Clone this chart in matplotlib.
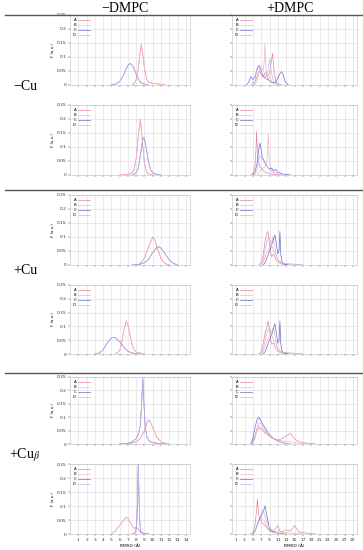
import numpy as np
import matplotlib.pyplot as plt

plt.rcParams['mathtext.fontset'] = 'stix'

W, H = 363, 550

col_titles = ["\u2212DMPC", "+DMPC"]
row_titles = ["\u2212Cu", "+Cu", "+Cu$_\\beta$"]
labels = ["A", "B", "C", "D"]
colors = ["#e9839b", "#f4b6c0", "#6c6cd2", "#c3b9ee"]

# ---- left column (-DMPC), RMSD in Angstrom ----
# row 1 (-Cu)
r1L_A_x = [7.5, 7.75, 8.0, 8.25, 8.5, 8.6, 8.75, 9.0, 9.25, 9.5, 10.0, 10.5, 11.0, 11.5]
r1L_A_y = [0, 0.004, 0.02, 0.06, 0.125, 0.145, 0.12, 0.06, 0.022, 0.01, 0.006, 0.004, 0.002, 0]
r1L_C_x = [5.0, 5.5, 6.0, 6.5, 6.75, 7.0, 7.25, 7.5, 7.75, 8.0, 8.25, 8.5, 9.0, 9.5]
r1L_C_y = [0, 0.003, 0.012, 0.038, 0.055, 0.07, 0.077, 0.072, 0.058, 0.038, 0.022, 0.01, 0.002, 0]
# row 2
r2L_A_x = [6.0, 7.0, 7.5, 7.75, 8.0, 8.25, 8.5, 8.75, 9.0, 9.25, 9.5, 10.0]
r2L_A_y = [0, 0.002, 0.008, 0.02, 0.06, 0.14, 0.2, 0.12, 0.04, 0.012, 0.004, 0]
r2L_C_x = [7.5, 8.0, 8.25, 8.5, 8.75, 8.9, 9.0, 9.25, 9.5, 9.75, 10.0, 10.5, 11.0]
r2L_C_y = [0, 0.008, 0.025, 0.07, 0.12, 0.135, 0.13, 0.09, 0.045, 0.018, 0.008, 0.002, 0]
# row 3 (+Cu)
r3L_A_x = [8.0, 8.5, 9.0, 9.5, 10.0, 10.25, 10.5, 11.0, 11.5, 12.0]
r3L_A_y = [0, 0.005, 0.025, 0.065, 0.1, 0.09, 0.065, 0.022, 0.005, 0]
r3L_C_x = [7.5, 8.5, 9.0, 9.5, 10.0, 10.5, 10.75, 11.0, 11.5, 12.0, 12.5, 13.0]
r3L_C_y = [0, 0.003, 0.008, 0.02, 0.045, 0.063, 0.065, 0.06, 0.04, 0.018, 0.006, 0]
# row 4
r4L_A_x = [5.5, 6.0, 6.25, 6.5, 6.8, 7.0, 7.25, 7.5, 7.75, 8.0, 8.5, 9.0]
r4L_A_y = [0, 0.012, 0.04, 0.085, 0.12, 0.105, 0.07, 0.035, 0.015, 0.007, 0.003, 0]
r4L_C_x = [3.0, 3.5, 4.0, 4.5, 5.0, 5.25, 5.5, 6.0, 6.5, 7.0, 7.5, 8.0, 8.5]
r4L_C_y = [0, 0.003, 0.015, 0.04, 0.058, 0.06, 0.058, 0.045, 0.025, 0.01, 0.004, 0.001, 0]
# row 5 (+Cu beta)
r5L_A_x = [7.0, 7.5, 8.0, 8.5, 9.0, 9.25, 9.5, 9.75, 10.0, 10.5, 11.0, 11.5, 12.0]
r5L_A_y = [0, 0.003, 0.008, 0.02, 0.05, 0.075, 0.09, 0.08, 0.06, 0.025, 0.008, 0.003, 0]
r5L_C_x = [6.0, 7.0, 7.5, 8.0, 8.25, 8.5, 8.65, 8.8, 8.95, 9.1, 9.3, 9.6, 10.0, 11.0, 11.5]
r5L_C_y = [0, 0.003, 0.008, 0.02, 0.035, 0.07, 0.15, 0.245, 0.14, 0.06, 0.025, 0.01, 0.005, 0.001, 0]
# row 6
r6L_A_x = [5.0, 5.5, 6.0, 6.5, 6.8, 7.0, 7.5, 7.75, 8.0, 8.25, 8.5, 9.0, 9.5]
r6L_A_y = [0, 0.012, 0.03, 0.05, 0.06, 0.055, 0.03, 0.02, 0.025, 0.018, 0.006, 0.001, 0]
r6L_C_x = [7.5, 7.9, 8.05, 8.15, 8.25, 8.35, 8.45, 8.6, 9.0, 9.5]
r6L_C_y = [0, 0.005, 0.03, 0.12, 0.25, 0.12, 0.03, 0.006, 0.001, 0]

# ---- right column (+DMPC) ----
# row 1
r1R_A_x = [5, 5.5, 6, 6.5, 7, 7.5, 8, 8.5, 9, 9.4, 9.75, 10.1, 10.5, 11, 12]
r1R_A_y = [0, 0.01, 0.03, 0.05, 0.04, 0.03, 0.045, 0.03, 0.04, 0.08, 0.113, 0.05, 0.015, 0.004, 0]
r1R_B_x = [5.5, 6, 6.5, 7, 7.5, 7.75, 7.9, 8.05, 8.3, 8.7, 9, 9.5, 10, 11]
r1R_B_y = [0, 0.015, 0.045, 0.065, 0.05, 0.09, 0.15, 0.08, 0.03, 0.02, 0.03, 0.015, 0.005, 0]
r1R_C_x = [3.5, 4, 4.5, 5, 5.5, 6, 6.5, 7, 7.5, 8, 8.5, 9, 9.5, 10, 10.5, 11, 11.5, 11.9, 12.3, 12.8, 13.5]
r1R_C_y = [0, 0.01, 0.03, 0.02, 0.025, 0.055, 0.07, 0.05, 0.03, 0.025, 0.02, 0.015, 0.01, 0.008, 0.01, 0.025, 0.04, 0.048, 0.035, 0.01, 0]
r1R_D_x = [4.5, 5, 5.5, 6, 6.3, 6.7, 7, 7.5, 8, 8.5, 8.8, 9.1, 9.4, 9.8, 10.5, 11.5]
r1R_D_y = [0, 0.01, 0.03, 0.06, 0.07, 0.06, 0.045, 0.035, 0.03, 0.04, 0.07, 0.092, 0.05, 0.02, 0.005, 0]
# row 2
r2R_A_x = [4.5, 5, 5.5, 5.75, 5.9, 6.05, 6.3, 6.7, 7, 7.5, 8, 8.5, 9, 10, 11]
r2R_A_y = [0, 0.005, 0.03, 0.09, 0.155, 0.1, 0.05, 0.03, 0.025, 0.015, 0.01, 0.008, 0.005, 0.002, 0]
r2R_B_x = [6, 6.5, 7, 7.5, 8, 8.4, 8.55, 8.7, 8.85, 9.0, 9.5, 10, 11, 12]
r2R_B_y = [0, 0.01, 0.02, 0.025, 0.03, 0.05, 0.1, 0.15, 0.09, 0.04, 0.02, 0.01, 0.004, 0]
r2R_C_x = [5, 5.5, 6, 6.4, 6.7, 7, 7.3, 7.6, 8, 8.5, 9, 9.5, 10, 10.5, 11, 11.5, 12, 13, 14]
r2R_C_y = [0, 0.01, 0.04, 0.09, 0.114, 0.09, 0.06, 0.055, 0.04, 0.03, 0.02, 0.025, 0.015, 0.02, 0.01, 0.008, 0.004, 0.002, 0]
r2R_D_x = [5.5, 6, 6.5, 7, 7.5, 8, 8.5, 9, 9.5, 10, 11, 12]
r2R_D_y = [0, 0.02, 0.06, 0.07, 0.05, 0.04, 0.03, 0.02, 0.012, 0.008, 0.003, 0]
# row 3
r3R_A_x = [6.5, 7, 7.5, 8, 8.3, 8.6, 8.9, 9.2, 9.5, 10, 10.5, 11, 12, 13]
r3R_A_y = [0, 0.01, 0.04, 0.09, 0.11, 0.12, 0.09, 0.05, 0.03, 0.04, 0.02, 0.01, 0.003, 0]
r3R_B_x = [7, 7.5, 8, 8.5, 9, 9.5, 9.8, 10, 10.3, 10.6, 11, 11.5, 12, 13, 15, 17]
r3R_B_y = [0, 0.01, 0.03, 0.05, 0.06, 0.08, 0.1, 0.09, 0.06, 0.03, 0.02, 0.01, 0.005, 0.004, 0.002, 0]
r3R_C_x = [7.5, 8, 8.5, 9, 9.5, 10, 10.3, 10.6, 11, 11.3, 11.5, 11.7, 12, 12.5, 13.5]
r3R_C_y = [0, 0.01, 0.03, 0.05, 0.07, 0.095, 0.107, 0.08, 0.04, 0.05, 0.12, 0.04, 0.01, 0.004, 0]
r3R_D_x = [7, 7.5, 8, 8.5, 9, 9.5, 10, 10.5, 11, 12, 14, 16, 17]
r3R_D_y = [0, 0.02, 0.06, 0.09, 0.1, 0.07, 0.05, 0.04, 0.02, 0.006, 0.004, 0.002, 0]
# row 4
r4R_A_x = [6.5, 7, 7.5, 8, 8.4, 8.7, 9.0, 9.3, 9.6, 10, 10.5, 11, 12, 13]
r4R_A_y = [0, 0.01, 0.04, 0.08, 0.1, 0.12, 0.085, 0.05, 0.035, 0.04, 0.02, 0.01, 0.003, 0]
r4R_B_x = [7, 7.5, 8, 8.5, 9, 9.5, 9.8, 10.1, 10.4, 10.7, 11, 11.5, 12, 13, 15, 17]
r4R_B_y = [0, 0.01, 0.03, 0.05, 0.065, 0.08, 0.095, 0.085, 0.06, 0.03, 0.02, 0.01, 0.006, 0.004, 0.002, 0]
r4R_C_x = [7.5, 8, 8.5, 9, 9.5, 10, 10.3, 10.6, 11, 11.3, 11.5, 11.7, 12, 12.5, 13.5]
r4R_C_y = [0, 0.01, 0.03, 0.05, 0.07, 0.095, 0.11, 0.08, 0.04, 0.05, 0.12, 0.04, 0.01, 0.004, 0]
r4R_D_x = [7, 7.5, 8, 8.5, 9, 9.5, 10, 10.5, 11, 12, 14, 16, 17]
r4R_D_y = [0, 0.02, 0.055, 0.085, 0.095, 0.07, 0.05, 0.04, 0.02, 0.006, 0.004, 0.002, 0]
# row 5
r5R_A_x = [4.5, 5, 5.5, 6, 6.5, 7, 7.5, 8, 8.5, 9, 9.5, 10, 11, 12, 13, 14, 15, 16, 18, 20]
r5R_A_y = [0, 0.01, 0.03, 0.05, 0.06, 0.055, 0.05, 0.04, 0.035, 0.03, 0.025, 0.02, 0.015, 0.02, 0.03, 0.04, 0.02, 0.008, 0.003, 0]
r5R_B_x = [5, 5.5, 6, 6.5, 7, 7.5, 8, 8.5, 9, 10, 11, 12, 13, 14, 16, 18]
r5R_B_y = [0, 0.02, 0.05, 0.07, 0.06, 0.05, 0.045, 0.04, 0.03, 0.02, 0.015, 0.012, 0.01, 0.008, 0.003, 0]
r5R_C_x = [4.5, 5, 5.5, 6, 6.5, 7, 7.5, 8, 8.5, 9, 9.5, 10, 11, 12, 13, 14]
r5R_C_y = [0, 0.02, 0.06, 0.09, 0.1, 0.085, 0.07, 0.06, 0.045, 0.035, 0.025, 0.02, 0.012, 0.006, 0.002, 0]
r5R_D_x = [5, 5.5, 6, 6.5, 7, 7.5, 8, 9, 10, 11, 12, 14]
r5R_D_y = [0, 0.03, 0.06, 0.08, 0.075, 0.06, 0.05, 0.035, 0.02, 0.01, 0.005, 0]
# row 6
r6R_A_x = [4.5, 5, 5.5, 5.8, 6.1, 6.4, 6.8, 7.2, 7.6, 8, 8.5, 9, 10, 11, 11.5, 12, 13, 14, 15, 15.5, 16, 17, 18, 20]
r6R_A_y = [0, 0.005, 0.03, 0.07, 0.125, 0.07, 0.05, 0.04, 0.035, 0.03, 0.02, 0.01, 0.01, 0.03, 0.01, 0.008, 0.015, 0.01, 0.03, 0.02, 0.008, 0.005, 0.003, 0]
r6R_B_x = [5, 5.5, 6, 6.5, 7, 7.5, 8, 8.5, 9, 10, 11, 12, 13, 15, 17]
r6R_B_y = [0, 0.01, 0.03, 0.05, 0.06, 0.05, 0.04, 0.025, 0.015, 0.01, 0.008, 0.005, 0.004, 0.002, 0]
r6R_C_x = [5, 5.5, 6, 6.5, 7, 7.5, 7.9, 8.3, 8.7, 9, 9.5, 10, 11, 12, 13]
r6R_C_y = [0, 0.01, 0.03, 0.05, 0.065, 0.08, 0.1, 0.07, 0.04, 0.02, 0.01, 0.006, 0.003, 0.001, 0]
r6R_D_x = [5, 5.5, 6, 6.5, 7, 7.4, 7.8, 8.2, 8.7, 9.5, 10.5, 12]
r6R_D_y = [0, 0.01, 0.03, 0.055, 0.07, 0.085, 0.07, 0.05, 0.03, 0.015, 0.005, 0]

left_panels = [
    [(r1L_A_x, r1L_A_y), (r1L_A_x, r1L_A_y), (r1L_C_x, r1L_C_y), (r1L_C_x, r1L_C_y)],
    [(r2L_A_x, r2L_A_y), (r2L_A_x, r2L_A_y), (r2L_C_x, r2L_C_y), (r2L_C_x, r2L_C_y)],
    [(r3L_A_x, r3L_A_y), (r3L_A_x, r3L_A_y), (r3L_C_x, r3L_C_y), (r3L_C_x, r3L_C_y)],
    [(r4L_A_x, r4L_A_y), (r4L_A_x, r4L_A_y), (r4L_C_x, r4L_C_y), (r4L_C_x, r4L_C_y)],
    [(r5L_A_x, r5L_A_y), (r5L_A_x, r5L_A_y), (r5L_C_x, r5L_C_y), (r5L_C_x, r5L_C_y)],
    [(r6L_A_x, r6L_A_y), (r6L_A_x, r6L_A_y), (r6L_C_x, r6L_C_y), (r6L_C_x, r6L_C_y)],
]
right_panels = [
    [(r1R_A_x, r1R_A_y), (r1R_B_x, r1R_B_y), (r1R_C_x, r1R_C_y), (r1R_D_x, r1R_D_y)],
    [(r2R_A_x, r2R_A_y), (r2R_B_x, r2R_B_y), (r2R_C_x, r2R_C_y), (r2R_D_x, r2R_D_y)],
    [(r3R_A_x, r3R_A_y), (r3R_B_x, r3R_B_y), (r3R_C_x, r3R_C_y), (r3R_D_x, r3R_D_y)],
    [(r4R_A_x, r4R_A_y), (r4R_B_x, r4R_B_y), (r4R_C_x, r4R_C_y), (r4R_D_x, r4R_D_y)],
    [(r5R_A_x, r5R_A_y), (r5R_B_x, r5R_B_y), (r5R_C_x, r5R_C_y), (r5R_D_x, r5R_D_y)],
    [(r6R_A_x, r6R_A_y), (r6R_B_x, r6R_B_y), (r6R_C_x, r6R_C_y), (r6R_D_x, r6R_D_y)],
]

# pixel rows (top, bottom) of each panel
row_px = [(15, 85), (105, 175), (195, 265), (285, 354), (377, 444), (464, 534)]

fig = plt.figure(figsize=(W / 100, H / 100), dpi=100)


def px_ax(x0, x1, y0, y1):
    return fig.add_axes([x0 / W, 1 - y1 / H, (x1 - x0) / W, (y1 - y0) / H])


def style(ax, left, bottom):
    ax.set_ylim(0, 0.25)
    ax.set_yticks([0, 0.05, 0.1, 0.15, 0.2, 0.25])
    if left:
        ax.set_xlim(0, 14.5)
        ax.set_xticks(range(1, 15))
        ax.set_yticklabels(["0", "0.05", "0.1", "0.15", "0.2", "0.25"])
        ax.set_ylabel("F (a.u.)", fontsize=2.8, labelpad=1)
    else:
        ax.set_xlim(0, 30)
        ax.set_xticks(range(1, 30, 2))
        ax.set_yticklabels([])
    if not bottom:
        ax.set_xticklabels([])
    else:
        ax.set_xlabel("RMSD (\u00c5)", fontsize=3.2, labelpad=1.5)
    ax.tick_params(labelsize=3.2, length=1.2, width=0.3, pad=1.5, colors="#333333")
    ax.grid(True, color="#dadada", lw=0.4)
    for s in ax.spines.values():
        s.set_color("#bbbbbb")
        s.set_linewidth(0.4)


for i, (t, b) in enumerate(row_px):
    last = i == len(row_px) - 1
    for left, panels, (x0, x1) in [(True, left_panels, (70, 190)), (False, right_panels, (232, 357))]:
        ax = px_ax(x0, x1, t, b)
        for (xs, ys), lab, c in zip(panels[i], labels, colors):
            ax.plot(xs, ys, color=c, lw=0.5, label=lab)
        style(ax, left, last)
        ax.legend(loc="upper left", fontsize=2.8, frameon=False, markerfirst=False,
                  handlelength=3, labelspacing=0.25, borderpad=0.3, handletextpad=0.6)

# column headers, row labels and separators
fig.text(125 / W, 1 - 8 / H, col_titles[0], ha="center", va="center",
         family="Liberation Serif", fontsize=10)
fig.text(290 / W, 1 - 8 / H, col_titles[1], ha="center", va="center",
         family="Liberation Serif", fontsize=10)
for lab, y in zip(row_titles, [87, 270, 455]):
    fig.text(25 / W, 1 - y / H, lab, ha="center", va="center",
             family="Liberation Serif", fontsize=10)
for y in [15, 190, 373]:
    fig.add_artist(plt.Line2D([5 / W, 1], [1 - y / H, 1 - y / H], color="#555555", lw=1.0))

fig.savefig("out.png", dpi=100)
